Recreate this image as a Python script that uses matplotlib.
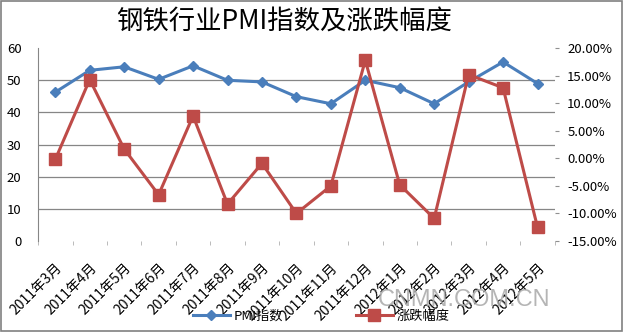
import matplotlib.pyplot as plt
import numpy as np
from matplotlib.ticker import FuncFormatter, MultipleLocator

plt.rcParams['font.family'] = ['Noto Sans CJK SC', 'DejaVu Sans']

months = ['2011年3月', '2011年4月', '2011年5月', '2011年6月', '2011年7月',
          '2011年8月', '2011年9月', '2011年10月', '2011年11月', '2011年12月',
          '2012年1月', '2012年2月', '2012年3月', '2012年4月', '2012年5月']
pmi = [46.3, 53.1, 54.2, 50.3, 54.5, 50.0, 49.5, 44.9, 42.7, 50.0,
       47.7, 42.7, 49.5, 55.7, 49.0]
change = [-0.2, 14.3, 1.7, -6.6, 7.7, -8.3, -0.9, -10.0, -5.0, 17.8,
          -4.8, -10.9, 15.2, 12.8, -12.5]

blue = '#4A7EBB'
red = '#BE4B48'
grid_c = '#868686'

fig = plt.figure(figsize=(6.24, 3.32), dpi=100)
ax = fig.add_axes([0.061, 0.274, 0.828, 0.581])
ax2 = ax.twinx()

x = np.arange(len(months))

ax.plot(x, pmi, color=blue, lw=2.2, marker='D', ms=5.5, label='PMI指数', zorder=3)
ax2.plot(x, change, color=red, lw=2.2, marker='s', ms=8, label='涨跌幅度', zorder=3)

# left axis with gridlines
ax.set_ylim(0, 60)
ax.yaxis.set_major_locator(MultipleLocator(10))
for v in range(10, 60, 10):
    ax.axhline(v, color=grid_c, lw=0.9, zorder=0)
ax.set_xlim(-0.5, len(months) - 0.5)
ax.set_xticks(x)
ax.set_xticklabels(months, rotation=45, ha='right', rotation_mode='anchor',
                   fontsize=10)
ax.set_xticks(np.arange(-0.5, len(months)), minor=True)
ax.tick_params(axis='x', which='major', length=0, pad=14)
ax.tick_params(axis='x', which='minor', length=3, color='#b0b0b0')
ax.tick_params(axis='y', length=0, labelsize=9.5, pad=12)

for side in ['top', 'right', 'bottom']:
    ax.spines[side].set_visible(False)
ax.spines['left'].set_color(grid_c)

# right axis for percentage change
ax2.set_ylim(-15, 20)
ax2.yaxis.set_major_locator(MultipleLocator(5))
ax2.yaxis.set_major_formatter(FuncFormatter(lambda v, p: f'{v:.2f}%'))
ax2.tick_params(axis='y', length=3, color='#909090', labelsize=9.5, pad=6)
for side in ['top', 'left', 'bottom', 'right']:
    ax2.spines[side].set_visible(False)

fig.suptitle('钢铁行业PMI指数及涨跌幅度', x=0.455, y=0.975, fontsize=19)

h1, l1 = ax.get_legend_handles_labels()
h2, l2 = ax2.get_legend_handles_labels()
fig.legend(h1 + h2, l1 + l2, loc='center', bbox_to_anchor=(0.515, 0.048),
           ncol=2, frameon=False, fontsize=9.5, handlelength=2.8,
           columnspacing=5.5, handletextpad=0.3)

fig.text(0.744, 0.096, 'CNMN.COM.CN', family='Liberation Sans', fontsize=17,
         color='#a8a8a8', alpha=0.85, ha='center', va='center')

# outer chart border
fig.patches.append(plt.Rectangle((0.002, 0.003), 0.995, 0.994, fill=False,
                                 edgecolor='#808080', lw=1.2,
                                 transform=fig.transFigure))

fig.savefig('out.png', dpi=100)
